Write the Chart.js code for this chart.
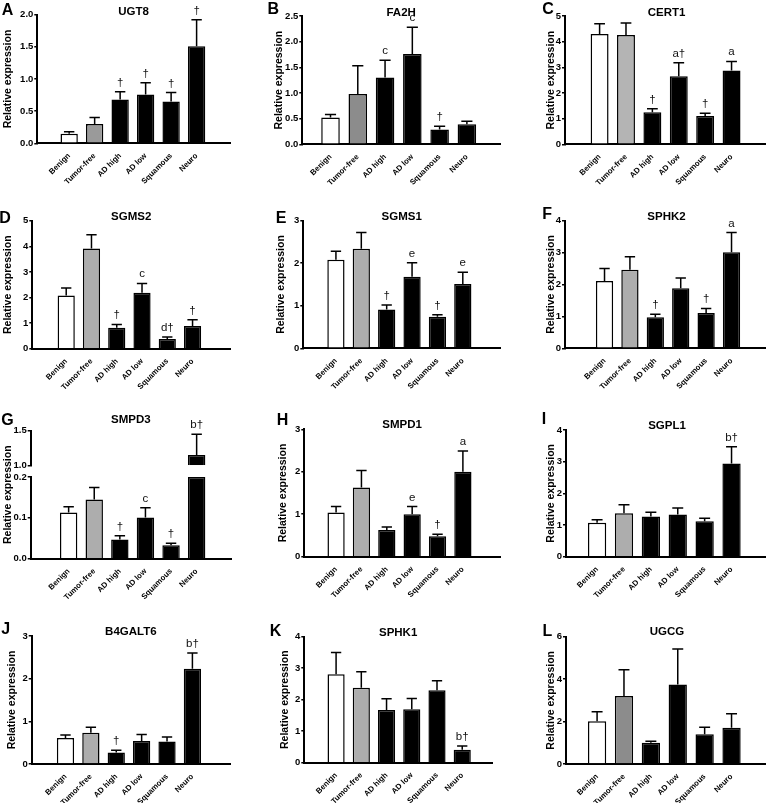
<!DOCTYPE html>
<html>
<head>
<meta charset="utf-8">
<script src="https://cdn.jsdelivr.net/npm/chart.js@4"></script>
<style>
  html, body { margin: 0; padding: 0; background: #fff; overflow: hidden; }
  body { width: 766px; height: 803px; position: relative; }
  canvas { position: absolute; }
</style>
</head>
<body>
<script>
// groups on the x axis
const categories = ['Benign', 'Tumor-free', 'AD high', 'AD low', 'Squamous', 'Neuro'];

// mean, SEM and significance marks per gene
const ugt8Mean = [0.15, 0.30, 0.68, 0.76, 0.65, 1.51];
const ugt8Sem = [0.03, 0.10, 0.12, 0.18, 0.14, 0.41];
const ugt8Marks = ['', '', '†', '†', '†', '†'];

const fa2hMean = [0.52, 0.98, 1.30, 1.76, 0.29, 0.39];
const fa2hSem = [0.06, 0.55, 0.34, 0.52, 0.06, 0.06];
const fa2hMarks = ['', '', 'c', 'c', '†', ''];

const cert1Mean = [4.30, 4.26, 1.25, 2.65, 1.10, 2.88];
const cert1Sem = [0.40, 0.47, 0.14, 0.53, 0.11, 0.35];
const cert1Marks = ['', '', '†', 'a†', '†', 'a'];

const sgms2Mean = [2.08, 3.91, 0.82, 2.19, 0.38, 0.89];
const sgms2Sem = [0.29, 0.54, 0.13, 0.36, 0.08, 0.24];
const sgms2Marks = ['', '', '†', 'c', 'd†', '†'];

const sgms1Mean = [2.08, 2.34, 0.91, 1.68, 0.74, 1.51];
const sgms1Sem = [0.20, 0.38, 0.11, 0.33, 0.05, 0.28];
const sgms1Marks = ['', '', '†', 'e', '†', 'e'];

const sphk2Mean = [2.11, 2.46, 0.97, 1.88, 1.11, 3.01];
const sphk2Sem = [0.39, 0.41, 0.10, 0.32, 0.14, 0.62];
const sphk2Marks = ['', '', '†', '', '†', 'a'];

const smpd3Mean = [0.113, 0.145, 0.047, 0.101, 0.033, 1.15];
const smpd3Sem = [0.014, 0.029, 0.009, 0.024, 0.005, 0.30];
const smpd3Marks = ['', '', '†', 'c', '†', 'b†'];

const smpd1Mean = [1.04, 1.63, 0.63, 1.00, 0.48, 2.00];
const smpd1Sem = [0.14, 0.40, 0.07, 0.18, 0.05, 0.49];
const smpd1Marks = ['', '', '', 'e', '†', 'a'];

const sgpl1Mean = [1.07, 1.37, 1.27, 1.33, 1.12, 2.94];
const sgpl1Sem = [0.10, 0.27, 0.13, 0.21, 0.09, 0.53];
const sgpl1Marks = ['', '', '', '', '', 'b†'];

const b4galt6Mean = [0.61, 0.73, 0.27, 0.54, 0.53, 2.23];
const b4galt6Sem = [0.07, 0.13, 0.05, 0.15, 0.10, 0.37];
const b4galt6Marks = ['', '', '†', '', '', 'b†'];

const sphk1Mean = [2.81, 2.38, 1.67, 1.70, 2.30, 0.41];
const sphk1Sem = [0.69, 0.51, 0.36, 0.34, 0.30, 0.12];
const sphk1Marks = ['', '', '', '', '', 'b†'];

const ugcgMean = [2.01, 3.20, 1.00, 3.75, 1.40, 1.71];
const ugcgSem = [0.45, 1.24, 0.07, 1.67, 0.33, 0.66];
const ugcgMarks = ['', '', '', '', '', ''];

// y axis ranges
const yMax = [2, 2.5, 5, 5, 3, 4, 1.5, 3, 4, 3, 4, 6];
const yStep = [0.5, 0.5, 1, 1, 1, 1, 0.5, 1, 1, 1, 1, 2];
// broken axis of SMPD3: lower part 0-0.2, upper part 1.0-1.5
const smpd3Break = [0.2, 1.0];

const FONT = "'Liberation Sans', Arial, Helvetica, sans-serif";
Chart.defaults.font.family = FONT;
Chart.defaults.color = '#000';

// panel placement (page pixels)
const panels = [
  {letter: 'A', title: 'UGT8', mean: ugt8Mean, sem: ugt8Sem, marks: ugt8Marks, col: 0, axisX: 37.3, end: 230, top: 14.7, bottom: 143.3, xMin: -0.62, xMax: 5.68, dec: 1, gray: '#9a9a9a', lp: [7.5, 10.8], titleY: 12, yTitleX: 8.3},
  {letter: 'B', title: 'FA2H', mean: fa2hMean, sem: fa2hSem, marks: fa2hMarks, col: 1, axisX: 302.3, end: 500, top: 16, bottom: 144.3, xMin: -0.43, xMax: 5.61, dec: 1, gray: '#8c8c8c', lp: [273.3, 10], titleY: 12.7, yTitleX: 279.3},
  {letter: 'C', title: 'CERT1', mean: cert1Mean, sem: cert1Sem, marks: cert1Marks, col: 2, axisX: 565, end: 768, top: 16, bottom: 144.3, xMin: -0.67, xMax: 5.74, dec: 0, gray: '#b4b4b4', lp: [548, 9.2], titleY: 12.7, yTitleX: 551.3},
  {letter: 'D', title: 'SGMS2', mean: sgms2Mean, sem: sgms2Sem, marks: sgms2Marks, col: 0, axisX: 32.3, end: 230, top: 220.7, bottom: 348.7, xMin: -0.69, xMax: 5.83, dec: 0, gray: '#adadad', lp: [5, 218.3], titleY: 216.7, yTitleX: 8},
  {letter: 'E', title: 'SGMS1', mean: sgms1Mean, sem: sgms1Sem, marks: sgms1Marks, col: 1, axisX: 303.3, end: 500, top: 220.7, bottom: 348.3, xMin: -0.64, xMax: 5.82, dec: 0, gray: '#adadad', lp: [281, 218.3], titleY: 216.7, yTitleX: 281},
  {letter: 'F', title: 'SPHK2', mean: sphk2Mean, sem: sphk2Sem, marks: sphk2Marks, col: 2, axisX: 565, end: 768, top: 220.7, bottom: 348.3, xMin: -0.89, xMax: 5.77, dec: 0, gray: '#adadad', lp: [547.2, 215], titleY: 216.7, yTitleX: 551},
  {letter: 'G', title: 'SMPD3', mean: smpd3Mean, sem: smpd3Sem, marks: smpd3Marks, col: 0, axisX: 30.7, end: 231, top: 430.7, bottom: 558.7, xMin: -0.83, xMax: 5.69, dec: 1, gray: '#adadad', lp: [7.5, 420.8], titleY: 420, yTitleX: 8.3, split: smpd3Break},
  {letter: 'H', title: 'SMPD1', mean: smpd1Mean, sem: smpd1Sem, marks: smpd1Marks, col: 1, axisX: 304.3, end: 500, top: 429.3, bottom: 556.7, xMin: -0.61, xMax: 5.82, dec: 0, gray: '#adadad', lp: [282.5, 420.5], titleY: 425, yTitleX: 282.7},
  {letter: 'I', title: 'SGPL1', mean: sgpl1Mean, sem: sgpl1Sem, marks: sgpl1Marks, col: 2, axisX: 566, end: 768, top: 430, bottom: 556.7, xMin: -0.53, xMax: 5.73, dec: 0, gray: '#adadad', lp: [544, 420], titleY: 426, yTitleX: 551},
  {letter: 'J', title: 'B4GALT6', mean: b4galt6Mean, sem: b4galt6Sem, marks: b4galt6Marks, col: 0, axisX: 31.7, end: 230, top: 636, bottom: 764, xMin: -0.68, xMax: 5.83, dec: 0, gray: '#adadad', lp: [5.8, 630], titleY: 631.7, yTitleX: 12},
  {letter: 'K', title: 'SPHK1', mean: sphk1Mean, sem: sphk1Sem, marks: sphk1Marks, col: 1, axisX: 304.3, end: 492, top: 636.7, bottom: 762.7, xMin: -0.64, xMax: 5.56, dec: 0, gray: '#adadad', lp: [275.5, 631.7], titleY: 633.3, yTitleX: 285},
  {letter: 'L', title: 'UGCG', mean: ugcgMean, sem: ugcgSem, marks: ugcgMarks, col: 2, axisX: 566, end: 768, top: 636.7, bottom: 764, xMin: -0.53, xMax: 5.73, dec: 0, gray: '#8c8c8c', lp: [547.5, 631.7], titleY: 632, yTitleX: 551}
];

// letter, gene title and y axis title
const decoPlugin = {
  id: 'deco',
  afterDraw(chart, args, o) {
    const {ctx, chartArea: a} = chart;
    ctx.save();
    ctx.fillStyle = '#000';
    ctx.textAlign = 'center';
    ctx.textBaseline = 'middle';
    ctx.font = 'bold 16px ' + FONT;
    ctx.fillText(o.letter, o.letterX, o.letterY);
    ctx.font = 'bold 11.5px ' + FONT;
    ctx.fillText(o.title, (a.left + a.right) / 2, o.titleY);
    ctx.translate(o.yTitleX, (a.top + a.bottom) / 2);
    ctx.rotate(-Math.PI / 2);
    ctx.font = 'bold 10.5px ' + FONT;
    ctx.fillText('Relative expression', 0, 0);
    ctx.restore();
  }
};

// upper error bars plus the letters / daggers over them
const errPlugin = {
  id: 'errs',
  afterDatasetsDraw(chart, args, o) {
    const {ctx} = chart;
    const meta = chart.getDatasetMeta(0);
    const pick = v => (o.split && v > o.split[0]) ? chart.scales.yTop : chart.scales.y;
    ctx.save();
    ctx.strokeStyle = '#000';
    ctx.fillStyle = '#111';
    ctx.lineWidth = 1.5;
    ctx.textAlign = 'center';
    ctx.textBaseline = 'alphabetic';
    ctx.font = '11.5px ' + FONT;
    o.mean.forEach((m, i) => {
      const bar = meta.data[i];
      const hi = m + o.sem[i];
      const y0 = pick(m).getPixelForValue(m);
      const y1 = pick(hi).getPixelForValue(hi);
      const half = bar.width * 0.3;
      ctx.beginPath();
      ctx.moveTo(bar.x, y0);
      ctx.lineTo(bar.x, y1);
      ctx.moveTo(bar.x - half, y1);
      ctx.lineTo(bar.x + half, y1);
      ctx.stroke();
      if (o.marks[i]) ctx.fillText(o.marks[i], bar.x, y1 - 6);
    });
    ctx.restore();
  }
};

function yAxis(p, min, max, step, width, extra) {
  return Object.assign({
    position: 'left',
    min: min,
    max: max,
    ticks: {stepSize: step, callback: v => Number(v).toFixed(p.dec), font: {size: 9.5, weight: 'bold'}, color: '#000', padding: 1},
    grid: {display: true, drawOnChartArea: false, drawTicks: true, tickLength: 3, color: '#000', lineWidth: 1.5},
    border: {display: true, color: '#000', width: 2},
    afterFit: s => { s.width = width; }
  }, extra || {});
}

panels.forEach((p, k) => {
  const left = p.col * 255;
  const w = p.col === 2 ? 270 : 255;
  const h = 200;
  const top = Math.round(p.top) - 26;
  const canvas = document.createElement('canvas');
  canvas.width = w;
  canvas.height = h;
  canvas.style.left = left + 'px';
  canvas.style.top = top + 'px';
  canvas.style.width = w + 'px';
  canvas.style.height = h + 'px';
  document.body.appendChild(canvas);

  const plotTop = p.top - top;
  const plotH = p.bottom - p.top;
  const axisX = p.axisX - left;
  const colors = ['#ffffff', p.gray, '#000', '#000', '#000', '#000'];

  const datasets = [];
  const scales = {
    x: {
      type: 'linear',
      min: p.xMin,
      max: p.xMax,
      afterBuildTicks: s => { s.ticks = categories.map((c, i) => ({value: i})); },
      ticks: {autoSkip: false, minRotation: 45, maxRotation: 45, padding: 8, callback: v => categories[v], font: {size: 7.8, weight: 'bold'}, color: '#000'},
      grid: {display: false, drawTicks: false},
      border: {display: true, color: '#000', width: 2},
      afterFit: s => { s.height = h - plotTop - plotH; }
    }
  };

  if (p.split) {
    const lowMax = p.split[0], upMin = p.split[1];
    datasets.push({
      data: p.mean.map((v, i) => ({x: i, y: Math.min(v, lowMax)})),
      yAxisID: 'y', backgroundColor: colors, borderColor: '#000', borderWidth: 1.5,
      grouped: false, categoryPercentage: 1, barPercentage: 0.68
    });
    datasets.push({
      data: p.mean.map((v, i) => ({x: i, y: [upMin, v]})).filter(d => d.y[1] > lowMax),
      yAxisID: 'yTop', backgroundColor: '#000', borderColor: '#000', borderWidth: 1.5,
      grouped: false, categoryPercentage: 1, barPercentage: 0.68
    });
    const span = p.bottom - p.top;
    const upPx = 34.6, gapPx = 11.7;
    scales.y = yAxis(p, 0, lowMax, 0.1, axisX, {stack: 'g', stackWeight: span - upPx - gapPx});
    scales.yGap = {position: 'left', stack: 'g', stackWeight: gapPx, ticks: {display: false}, grid: {display: false}, border: {display: false}, afterFit: s => { s.width = axisX; }};
    scales.yTop = yAxis(p, upMin, yMax[k], yStep[k], axisX, {stack: 'g', stackWeight: upPx});
  } else {
    datasets.push({
      data: p.mean.map((v, i) => ({x: i, y: v})),
      backgroundColor: colors, borderColor: '#000', borderWidth: 1.5,
      categoryPercentage: 1, barPercentage: 0.68
    });
    scales.y = yAxis(p, 0, yMax[k], yStep[k], axisX);
  }

  new Chart(canvas, {
    type: 'bar',
    data: {datasets: datasets},
    options: {
      responsive: false,
      animation: false,
      devicePixelRatio: 1,
      layout: {padding: {left: 0, top: plotTop, right: w - (p.end - left), bottom: 0}},
      plugins: {
        legend: {display: false},
        tooltip: {enabled: false},
        deco: {letter: p.letter, title: p.title, letterX: p.lp[0] - left, letterY: p.lp[1] - top, titleY: p.titleY - top, yTitleX: p.yTitleX - left},
        errs: {mean: p.mean, sem: p.sem, marks: p.marks, split: p.split}
      },
      scales: scales
    },
    plugins: [decoPlugin, errPlugin]
  });
});
</script>
</body>
</html>
